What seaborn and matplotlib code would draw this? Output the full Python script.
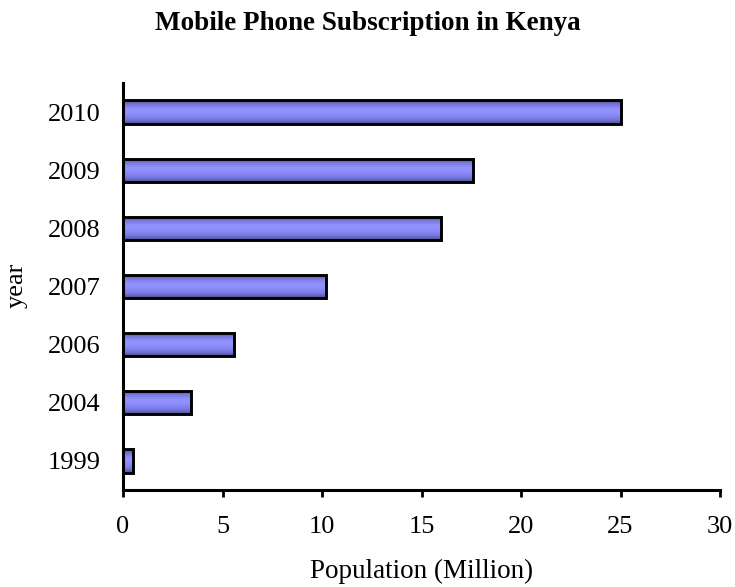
import numpy as np
import pandas as pd
import matplotlib
matplotlib.use("Agg")
import matplotlib.pyplot as plt
from matplotlib.colors import LinearSegmentedColormap
import seaborn as sns

# Subscriptions per year (millions)
years = ["1999", "2004", "2006", "2007", "2008", "2009", "2010"]
subscribers = [0.5, 3.4, 5.6, 10.2, 16.0, 17.6, 25.0]
x_ticks = [0, 5, 10, 15, 20, 25, 30]

title = "Mobile Phone Subscription in Kenya"
x_title = "Population (Million)"
y_title = "year"

df = pd.DataFrame({"year": years, "subs": subscribers})

sns.set_theme(style="white")
plt.rcParams["font.family"] = ["Liberation Serif", "DejaVu Serif"]

fig = plt.figure(figsize=(7.35, 5.87), dpi=100)
ax = fig.add_axes([123 / 735, 1 - 490 / 587, (720 - 123) / 735, (490 - 83) / 587])

sns.barplot(data=df, x="subs", y="year", orient="h", order=years[::-1],
            width=0.4, color="#9999ff", edgecolor="black", linewidth=2.1,
            saturation=1, ax=ax)

# vertical shading inside each bar: darker rims, light centre
shade = LinearSegmentedColormap.from_list(
    "bar_shade", ["#50509a", "#7a7ae0", "#9494ff", "#8c8cff", "#7a7ae0", "#50509a"])
grad = np.linspace(0, 1, 64).reshape(-1, 1)
for p in ax.patches:
    x0, y0 = p.get_x(), p.get_y()
    w, h = p.get_width(), p.get_height()
    im = ax.imshow(grad, cmap=shade, aspect="auto", interpolation="bicubic",
                   extent=(x0, x0 + w, y0 + h, y0), zorder=p.get_zorder() + 0.1)
    im.set_clip_path(p)
    p.set_facecolor("none")
    p.set_zorder(p.get_zorder() + 0.2)

ax.set_xlim(0, 30)
ax.set_ylim(6.5, -0.5)
ax.set_xticks(x_ticks)
ax.set_xticklabels([str(t) for t in x_ticks])

for side in ("top", "right"):
    ax.spines[side].set_visible(False)
for side in ("left", "bottom"):
    ax.spines[side].set_color("black")
    ax.spines[side].set_linewidth(2.2)

ax.tick_params(axis="x", which="major", direction="out", length=5, width=2.0,
               color="black", bottom=True, labelsize=19, pad=14, labelcolor="black")
ax.tick_params(axis="y", which="major", length=0, labelsize=19, pad=16,
               labelcolor="black")

ax.set_xlabel(x_title, fontsize=19.5, labelpad=15, color="black")
ax.set_ylabel("")
fig.text(17 / 735, 1 - 285 / 587, y_title, rotation=90, fontsize=19,
         ha="center", va="center", color="black")
fig.text(0.5, 1 - 24 / 587, title, fontsize=19.5, fontweight="bold",
         ha="center", va="center", color="black")

fig.savefig("out.png", dpi=100)
